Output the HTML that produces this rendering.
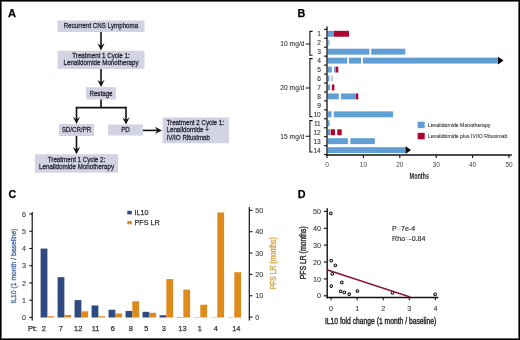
<!DOCTYPE html>
<html><head><meta charset="utf-8"><style>
html,body{margin:0;padding:0;background:#fff;}
#f{position:relative;width:520px;height:340px;overflow:hidden;background:#fff;}
svg{position:absolute;left:0;top:0;font-family:"Liberation Sans", sans-serif;will-change:transform;}

#b1{position:absolute;left:0;top:0;width:518px;height:338px;border:1px solid #000;}
#b2{position:absolute;left:1px;top:1px;width:516px;height:336px;border:1px solid #666;}
</style></head><body><div id="f">
<svg width="520" height="340" viewBox="0 0 520 340">
<text x="8" y="16.8" font-size="11.2" text-anchor="start" fill="#000" stroke="#000" stroke-width="0.25" font-weight="bold" >A</text>
<rect x="57.5" y="20.5" width="87" height="11.5" fill="#d3d4e3"/>
<text transform="translate(101,28.3) scale(0.89,1)" font-size="7" text-anchor="middle" fill="#23232f" stroke="#23232f" stroke-width="0.25" font-weight="normal" >Recurrent CNS Lymphoma</text>
<line x1="101" y1="32" x2="101" y2="46.5" stroke="#111" stroke-width="1.6"/>
<path d="M97.4,43.3 L101,50.5 L104.6,43.3 L101,45.9 Z" fill="#111"/>
<rect x="57.5" y="50.7" width="87" height="18.3" fill="#d3d4e3"/>
<text transform="translate(101,58.2) scale(0.89,1)" font-size="7" text-anchor="middle" fill="#23232f" stroke="#23232f" stroke-width="0.25" font-weight="normal" >Treatment 1 Cycle 1:</text>
<text transform="translate(101,65.2) scale(0.89,1)" font-size="7" text-anchor="middle" fill="#23232f" stroke="#23232f" stroke-width="0.25" font-weight="normal" >Lenalidomide Monotherapy</text>
<line x1="101" y1="69" x2="101" y2="83" stroke="#111" stroke-width="1.6"/>
<path d="M97.4,79.8 L101,87 L104.6,79.8 L101,82.4 Z" fill="#111"/>
<rect x="86" y="87.2" width="30" height="12.3" fill="#d3d4e3"/>
<text transform="translate(101,95.6) scale(0.89,1)" font-size="7" text-anchor="middle" fill="#23232f" stroke="#23232f" stroke-width="0.25" font-weight="normal" >Restage</text>
<path d="M101,99.5 L101,107.6 M76.5,107.6 L126,107.6" stroke="#111" stroke-width="1.6" fill="none"/>
<line x1="76.5" y1="106.8" x2="76.5" y2="120" stroke="#111" stroke-width="1.6"/>
<path d="M72.9,116.8 L76.5,124 L80.1,116.8 L76.5,119.4 Z" fill="#111"/>
<line x1="126" y1="106.8" x2="126" y2="120.5" stroke="#111" stroke-width="1.6"/>
<path d="M122.4,117.3 L126,124.5 L129.6,117.3 L126,119.9 Z" fill="#111"/>
<rect x="59" y="124" width="35" height="12" fill="#d3d4e3"/>
<text transform="translate(76.5,132.3) scale(0.89,1)" font-size="7" text-anchor="middle" fill="#23232f" stroke="#23232f" stroke-width="0.25" font-weight="normal" >SD/CR/PR</text>
<rect x="108" y="124.5" width="35" height="11" fill="#d3d4e3"/>
<text transform="translate(125.5,132.4) scale(0.89,1)" font-size="7" text-anchor="middle" fill="#23232f" stroke="#23232f" stroke-width="0.25" font-weight="normal" >PD</text>
<line x1="143" y1="130.4" x2="158" y2="130.4" stroke="#111" stroke-width="1.6"/>
<path d="M154.8,126.80000000000001 L162,130.4 L154.8,134.0 L157.4,130.4 Z" fill="#111"/>
<rect x="162.5" y="117.4" width="66.5" height="25.8" fill="#d3d4e3"/>
<text transform="translate(166.5,124.5) scale(0.89,1)" font-size="7" text-anchor="start" fill="#23232f" stroke="#23232f" stroke-width="0.25" font-weight="normal" >Treatment 2 Cycle 1:</text>
<text transform="translate(166.5,132.4) scale(0.89,1)" font-size="7" text-anchor="start" fill="#23232f" stroke="#23232f" stroke-width="0.25" font-weight="normal" >Lenalidomide +</text>
<text transform="translate(166.5,140.3) scale(0.89,1)" font-size="7" text-anchor="start" fill="#23232f" stroke="#23232f" stroke-width="0.25" font-weight="normal" >IV/IO Rituximab</text>
<line x1="76.5" y1="136" x2="76.5" y2="150.2" stroke="#111" stroke-width="1.6"/>
<path d="M72.9,147.0 L76.5,154.2 L80.1,147.0 L76.5,149.6 Z" fill="#111"/>
<rect x="35" y="154.2" width="83" height="18.5" fill="#d3d4e3"/>
<text transform="translate(76.5,161.8) scale(0.89,1)" font-size="7" text-anchor="middle" fill="#23232f" stroke="#23232f" stroke-width="0.25" font-weight="normal" >Treatment 1 Cycle 2:</text>
<text transform="translate(76.5,168.8) scale(0.89,1)" font-size="7" text-anchor="middle" fill="#23232f" stroke="#23232f" stroke-width="0.25" font-weight="normal" >Lenalidomide Monotherapy</text>
<text x="297.6" y="17.2" font-size="10.8" text-anchor="start" fill="#000" stroke="#000" stroke-width="0.25" font-weight="bold" >B</text>
<rect x="327.7" y="30.82" width="6.30" height="5.9" fill="#5f9fd6"/>
<rect x="334" y="30.82" width="15.00" height="5.9" fill="#ad0530"/>
<rect x="327.7" y="39.77" width="1.90" height="5.9" fill="#8fc0e6"/>
<rect x="327.7" y="48.72" width="41.70" height="5.9" fill="#5f9fd6"/>
<rect x="371.2" y="48.72" width="34.10" height="5.9" fill="#5f9fd6"/>
<rect x="327.7" y="57.67" width="19.60" height="5.9" fill="#5f9fd6"/>
<rect x="349" y="57.67" width="12.10" height="5.9" fill="#5f9fd6"/>
<rect x="362.9" y="57.67" width="135.10" height="5.9" fill="#5f9fd6"/>
<path d="M498,56.83 L503.5,60.62 L498,64.42 Z" fill="#000"/>
<rect x="327.7" y="66.62" width="4.10" height="5.9" fill="#5f9fd6"/>
<rect x="334.1" y="66.62" width="1.80" height="5.9" fill="#5f9fd6"/>
<rect x="335.9" y="66.62" width="2.40" height="5.9" fill="#ad0530"/>
<rect x="327.7" y="75.57" width="1.70" height="5.9" fill="#5f9fd6"/>
<rect x="331.2" y="75.57" width="1.50" height="5.9" fill="#8fbde3"/>
<rect x="327.7" y="84.52" width="2.30" height="5.9" fill="#5f9fd6"/>
<rect x="331.8" y="84.52" width="2.60" height="5.9" fill="#ad0530"/>
<rect x="327.7" y="93.47" width="11.10" height="5.9" fill="#5f9fd6"/>
<rect x="341" y="93.47" width="15.00" height="5.9" fill="#5f9fd6"/>
<rect x="356" y="93.47" width="2.30" height="5.9" fill="#ad0530"/>
<rect x="327.7" y="111.37" width="3.80" height="5.9" fill="#5f9fd6"/>
<rect x="333.8" y="111.37" width="59.30" height="5.9" fill="#5f9fd6"/>
<rect x="327.7" y="120.32" width="1.90" height="5.9" fill="#5f9fd6"/>
<rect x="327.7" y="129.28" width="2.30" height="5.9" fill="#5f9fd6"/>
<rect x="330.6" y="129.28" width="4.40" height="5.9" fill="#ad0530"/>
<rect x="337.3" y="129.28" width="4.40" height="5.9" fill="#ad0530"/>
<rect x="327.7" y="138.22" width="20.20" height="5.9" fill="#5f9fd6"/>
<rect x="350.4" y="138.22" width="24.40" height="5.9" fill="#5f9fd6"/>
<rect x="327.7" y="147.18" width="77.90" height="5.9" fill="#5f9fd6"/>
<path d="M405.6,146.32 L411,150.12 L405.6,153.93 Z" fill="#000"/>
<line x1="327" y1="26.5" x2="327" y2="156" stroke="#111" stroke-width="1.3"/>
<line x1="324" y1="29.30" x2="327" y2="29.30" stroke="#111" stroke-width="1.1"/>
<line x1="324" y1="38.25" x2="327" y2="38.25" stroke="#111" stroke-width="1.1"/>
<line x1="324" y1="47.20" x2="327" y2="47.20" stroke="#111" stroke-width="1.1"/>
<line x1="324" y1="56.15" x2="327" y2="56.15" stroke="#111" stroke-width="1.1"/>
<line x1="324" y1="65.10" x2="327" y2="65.10" stroke="#111" stroke-width="1.1"/>
<line x1="324" y1="74.05" x2="327" y2="74.05" stroke="#111" stroke-width="1.1"/>
<line x1="324" y1="83.00" x2="327" y2="83.00" stroke="#111" stroke-width="1.1"/>
<line x1="324" y1="91.95" x2="327" y2="91.95" stroke="#111" stroke-width="1.1"/>
<line x1="324" y1="100.90" x2="327" y2="100.90" stroke="#111" stroke-width="1.1"/>
<line x1="324" y1="109.85" x2="327" y2="109.85" stroke="#111" stroke-width="1.1"/>
<line x1="324" y1="118.80" x2="327" y2="118.80" stroke="#111" stroke-width="1.1"/>
<line x1="324" y1="127.75" x2="327" y2="127.75" stroke="#111" stroke-width="1.1"/>
<line x1="324" y1="136.70" x2="327" y2="136.70" stroke="#111" stroke-width="1.1"/>
<line x1="324" y1="145.65" x2="327" y2="145.65" stroke="#111" stroke-width="1.1"/>
<line x1="324" y1="154.60" x2="327" y2="154.60" stroke="#111" stroke-width="1.1"/>
<line x1="326.4" y1="155" x2="511.8" y2="155" stroke="#111" stroke-width="1.4"/>
<line x1="327.00" y1="155" x2="327.00" y2="158" stroke="#111" stroke-width="1.1"/>
<text x="327.00" y="166.5" font-size="6.5" text-anchor="middle" fill="#444" stroke="#444" stroke-width="0" font-weight="normal" >0</text>
<line x1="363.40" y1="155" x2="363.40" y2="158" stroke="#111" stroke-width="1.1"/>
<text x="363.40" y="166.5" font-size="6.5" text-anchor="middle" fill="#444" stroke="#444" stroke-width="0" font-weight="normal" >10</text>
<line x1="399.80" y1="155" x2="399.80" y2="158" stroke="#111" stroke-width="1.1"/>
<text x="399.80" y="166.5" font-size="6.5" text-anchor="middle" fill="#444" stroke="#444" stroke-width="0" font-weight="normal" >20</text>
<line x1="436.20" y1="155" x2="436.20" y2="158" stroke="#111" stroke-width="1.1"/>
<text x="436.20" y="166.5" font-size="6.5" text-anchor="middle" fill="#444" stroke="#444" stroke-width="0" font-weight="normal" >30</text>
<line x1="472.60" y1="155" x2="472.60" y2="158" stroke="#111" stroke-width="1.1"/>
<text x="472.60" y="166.5" font-size="6.5" text-anchor="middle" fill="#444" stroke="#444" stroke-width="0" font-weight="normal" >40</text>
<line x1="509.00" y1="155" x2="509.00" y2="158" stroke="#111" stroke-width="1.1"/>
<text x="509.00" y="166.5" font-size="6.5" text-anchor="middle" fill="#444" stroke="#444" stroke-width="0" font-weight="normal" >50</text>
<text x="409.6" y="178.6" font-size="8.4" font-weight="bold" fill="#222" textLength="19.4" lengthAdjust="spacingAndGlyphs">Months</text>
<text x="320.8" y="36.17" font-size="6.6" text-anchor="end" fill="#333" stroke="#333" stroke-width="0.1" font-weight="normal" >1</text>
<text x="320.8" y="45.12" font-size="6.6" text-anchor="end" fill="#333" stroke="#333" stroke-width="0.1" font-weight="normal" >2</text>
<text x="320.8" y="54.07" font-size="6.6" text-anchor="end" fill="#333" stroke="#333" stroke-width="0.1" font-weight="normal" >3</text>
<text x="320.8" y="63.02" font-size="6.6" text-anchor="end" fill="#333" stroke="#333" stroke-width="0.1" font-weight="normal" >4</text>
<text x="320.8" y="71.98" font-size="6.6" text-anchor="end" fill="#333" stroke="#333" stroke-width="0.1" font-weight="normal" >5</text>
<text x="320.8" y="80.92" font-size="6.6" text-anchor="end" fill="#333" stroke="#333" stroke-width="0.1" font-weight="normal" >6</text>
<text x="320.8" y="89.88" font-size="6.6" text-anchor="end" fill="#333" stroke="#333" stroke-width="0.1" font-weight="normal" >7</text>
<text x="320.8" y="98.83" font-size="6.6" text-anchor="end" fill="#333" stroke="#333" stroke-width="0.1" font-weight="normal" >8</text>
<text x="320.8" y="107.77" font-size="6.6" text-anchor="end" fill="#333" stroke="#333" stroke-width="0.1" font-weight="normal" >9</text>
<text x="320.8" y="116.72" font-size="6.6" text-anchor="end" fill="#333" stroke="#333" stroke-width="0.1" font-weight="normal" >10</text>
<text x="320.8" y="125.67" font-size="6.6" text-anchor="end" fill="#333" stroke="#333" stroke-width="0.1" font-weight="normal" >11</text>
<text x="320.8" y="134.62" font-size="6.6" text-anchor="end" fill="#333" stroke="#333" stroke-width="0.1" font-weight="normal" >12</text>
<text x="320.8" y="143.57" font-size="6.6" text-anchor="end" fill="#333" stroke="#333" stroke-width="0.1" font-weight="normal" >13</text>
<text x="320.8" y="152.53" font-size="6.6" text-anchor="end" fill="#333" stroke="#333" stroke-width="0.1" font-weight="normal" >14</text>
<path d="M312.6,31.4 L309.9,31.4 L309.9,55.2 L312.6,55.2 M305.7,44.0 L309.9,44.0" stroke="#111" stroke-width="1.1" fill="none"/>
<path d="M312.6,58.6 L309.9,58.6 L309.9,116.7 L312.6,116.7 M305.7,88.0 L309.9,88.0" stroke="#111" stroke-width="1.1" fill="none"/>
<path d="M312.6,120.6 L309.9,120.6 L309.9,152.0 L312.6,152.0 M305.7,136.3 L309.9,136.3" stroke="#111" stroke-width="1.1" fill="none"/>
<text x="304.6" y="46.3" font-size="6.6" text-anchor="end" fill="#333" stroke="#333" stroke-width="0.1" font-weight="normal" letter-spacing="0.08">10 mg/d</text>
<text x="304.6" y="90.3" font-size="6.6" text-anchor="end" fill="#333" stroke="#333" stroke-width="0.1" font-weight="normal" letter-spacing="0.08">20 mg/d</text>
<text x="304.6" y="138.6" font-size="6.6" text-anchor="end" fill="#333" stroke="#333" stroke-width="0.1" font-weight="normal" letter-spacing="0.08">15 mg/d</text>
<rect x="417.7" y="121.7" width="7" height="6.5" fill="#5f9fd6"/>
<rect x="417.7" y="132.8" width="7" height="6.5" fill="#ad0530"/>
<text x="427.8" y="126.9" font-size="5.2" text-anchor="start" fill="#333" stroke="#333" stroke-width="0.08" font-weight="normal" >Lenalidomide Monotherapy</text>
<text x="427.8" y="138.0" font-size="5.2" text-anchor="start" fill="#333" stroke="#333" stroke-width="0.08" font-weight="normal" >Lenalidomide plus IV/IO Rituximab</text>
<text x="8.4" y="198.2" font-size="10.6" text-anchor="start" fill="#000" stroke="#000" stroke-width="0.25" font-weight="bold" >C</text>
<rect x="40.60" y="248.58" width="6.8" height="68.92" fill="#2f4a80"/>
<rect x="47.40" y="316.22" width="6.8" height="1.28" fill="#de8b1b"/>
<rect x="57.59" y="277.18" width="6.8" height="40.32" fill="#2f4a80"/>
<rect x="64.39" y="314.94" width="6.8" height="2.56" fill="#de8b1b"/>
<rect x="74.58" y="300.10" width="6.8" height="17.40" fill="#2f4a80"/>
<rect x="81.38" y="311.31" width="6.8" height="6.19" fill="#de8b1b"/>
<rect x="91.57" y="305.44" width="6.8" height="12.06" fill="#2f4a80"/>
<rect x="98.37" y="316.22" width="6.8" height="1.28" fill="#de8b1b"/>
<rect x="108.56" y="309.75" width="6.8" height="7.75" fill="#2f4a80"/>
<rect x="115.36" y="313.44" width="6.8" height="4.06" fill="#de8b1b"/>
<rect x="125.55" y="310.95" width="6.8" height="6.55" fill="#2f4a80"/>
<rect x="132.35" y="301.27" width="6.8" height="16.23" fill="#de8b1b"/>
<rect x="142.54" y="311.81" width="6.8" height="5.69" fill="#2f4a80"/>
<rect x="149.34" y="312.80" width="6.8" height="4.70" fill="#de8b1b"/>
<rect x="159.53" y="315.26" width="6.8" height="2.24" fill="#2f4a80"/>
<rect x="166.33" y="279.07" width="6.8" height="38.43" fill="#de8b1b"/>
<rect x="176.52" y="317.16" width="6.8" height="0.34" fill="#2f4a80"/>
<rect x="183.32" y="289.53" width="6.8" height="27.97" fill="#de8b1b"/>
<rect x="193.51" y="317.00" width="6.8" height="0.5" fill="#a8b4c8"/>
<rect x="200.31" y="304.69" width="6.8" height="12.81" fill="#de8b1b"/>
<rect x="210.50" y="317.00" width="6.8" height="0.5" fill="#a8b4c8"/>
<rect x="217.30" y="212.46" width="6.8" height="105.04" fill="#de8b1b"/>
<rect x="227.49" y="317.00" width="6.8" height="0.5" fill="#a8b4c8"/>
<rect x="234.29" y="272.24" width="6.8" height="45.26" fill="#de8b1b"/>
<line x1="32.2" y1="211.9" x2="32.2" y2="320.5" stroke="#111" stroke-width="1.2"/>
<line x1="29.3" y1="317.40" x2="32.2" y2="317.40" stroke="#111" stroke-width="1.1"/>
<text x="25.9" y="320.00" font-size="7.1" text-anchor="end" fill="#3a3a3a" stroke="#3a3a3a" stroke-width="0.1" font-weight="normal" >0</text>
<line x1="29.3" y1="300.17" x2="32.2" y2="300.17" stroke="#111" stroke-width="1.1"/>
<text x="25.9" y="302.77" font-size="7.1" text-anchor="end" fill="#3a3a3a" stroke="#3a3a3a" stroke-width="0.1" font-weight="normal" >1</text>
<line x1="29.3" y1="282.94" x2="32.2" y2="282.94" stroke="#111" stroke-width="1.1"/>
<text x="25.9" y="285.54" font-size="7.1" text-anchor="end" fill="#3a3a3a" stroke="#3a3a3a" stroke-width="0.1" font-weight="normal" >2</text>
<line x1="29.3" y1="265.71" x2="32.2" y2="265.71" stroke="#111" stroke-width="1.1"/>
<text x="25.9" y="268.31" font-size="7.1" text-anchor="end" fill="#3a3a3a" stroke="#3a3a3a" stroke-width="0.1" font-weight="normal" >3</text>
<line x1="29.3" y1="248.48" x2="32.2" y2="248.48" stroke="#111" stroke-width="1.1"/>
<text x="25.9" y="251.08" font-size="7.1" text-anchor="end" fill="#3a3a3a" stroke="#3a3a3a" stroke-width="0.1" font-weight="normal" >4</text>
<line x1="29.3" y1="231.25" x2="32.2" y2="231.25" stroke="#111" stroke-width="1.1"/>
<text x="25.9" y="233.85" font-size="7.1" text-anchor="end" fill="#3a3a3a" stroke="#3a3a3a" stroke-width="0.1" font-weight="normal" >5</text>
<line x1="29.3" y1="214.02" x2="32.2" y2="214.02" stroke="#111" stroke-width="1.1"/>
<text x="25.9" y="216.62" font-size="7.1" text-anchor="end" fill="#3a3a3a" stroke="#3a3a3a" stroke-width="0.1" font-weight="normal" >6</text>
<line x1="249.3" y1="207" x2="249.3" y2="320.6" stroke="#111" stroke-width="1.2"/>
<line x1="249.3" y1="317.10" x2="252.5" y2="317.10" stroke="#111" stroke-width="1.1"/>
<text x="255.2" y="319.70" font-size="7.2" text-anchor="start" fill="#3a3a3a" stroke="#3a3a3a" stroke-width="0.1" font-weight="normal" >0</text>
<line x1="249.3" y1="295.75" x2="252.5" y2="295.75" stroke="#111" stroke-width="1.1"/>
<text x="255.2" y="298.35" font-size="7.2" text-anchor="start" fill="#3a3a3a" stroke="#3a3a3a" stroke-width="0.1" font-weight="normal" >10</text>
<line x1="249.3" y1="274.40" x2="252.5" y2="274.40" stroke="#111" stroke-width="1.1"/>
<text x="255.2" y="277.00" font-size="7.2" text-anchor="start" fill="#3a3a3a" stroke="#3a3a3a" stroke-width="0.1" font-weight="normal" >20</text>
<line x1="249.3" y1="253.05" x2="252.5" y2="253.05" stroke="#111" stroke-width="1.1"/>
<text x="255.2" y="255.65" font-size="7.2" text-anchor="start" fill="#3a3a3a" stroke="#3a3a3a" stroke-width="0.1" font-weight="normal" >30</text>
<line x1="249.3" y1="231.70" x2="252.5" y2="231.70" stroke="#111" stroke-width="1.1"/>
<text x="255.2" y="234.30" font-size="7.2" text-anchor="start" fill="#3a3a3a" stroke="#3a3a3a" stroke-width="0.1" font-weight="normal" >40</text>
<line x1="249.3" y1="210.35" x2="252.5" y2="210.35" stroke="#111" stroke-width="1.1"/>
<text x="255.2" y="212.95" font-size="7.2" text-anchor="start" fill="#3a3a3a" stroke="#3a3a3a" stroke-width="0.1" font-weight="normal" >50</text>
<text transform="translate(15.5,266.0) rotate(-90)" font-size="8" text-anchor="middle" fill="#5573a8" stroke="#5573a8" stroke-width="0.4" textLength="75.2" lengthAdjust="spacingAndGlyphs">IL10 (1 month / baseline)</text>
<text transform="translate(276.4,263.3) rotate(-90)" font-size="8.2" text-anchor="middle" fill="#dcaa50" stroke="#dcaa50" stroke-width="0.45" textLength="52" lengthAdjust="spacingAndGlyphs">PFS LR (months)</text>
<rect x="127.3" y="210.8" width="4.5" height="3.6" fill="#2f4a80"/>
<rect x="127.3" y="220.9" width="4.5" height="3.4" fill="#de8b1b"/>
<text x="134.5" y="215.3" font-size="7.2" text-anchor="start" fill="#333" stroke="#333" stroke-width="0.25" font-weight="normal" >IL10</text>
<text x="134.5" y="225.3" font-size="7.2" text-anchor="start" fill="#333" stroke="#333" stroke-width="0.25" font-weight="normal" >PFS LR</text>
<text x="27.9" y="330.8" font-size="7.5" text-anchor="start" fill="#333" stroke="#333" stroke-width="0.25" font-weight="normal" >Pt:</text>
<text x="43.9" y="330.8" font-size="7.4" text-anchor="middle" fill="#333" stroke="#333" stroke-width="0.25" font-weight="normal" >2</text>
<text x="60.9" y="330.8" font-size="7.4" text-anchor="middle" fill="#333" stroke="#333" stroke-width="0.25" font-weight="normal" >7</text>
<text x="78.2" y="330.8" font-size="7.4" text-anchor="middle" fill="#333" stroke="#333" stroke-width="0.25" font-weight="normal" >12</text>
<text x="95.5" y="330.8" font-size="7.4" text-anchor="middle" fill="#333" stroke="#333" stroke-width="0.25" font-weight="normal" >11</text>
<text x="112.9" y="330.8" font-size="7.4" text-anchor="middle" fill="#333" stroke="#333" stroke-width="0.25" font-weight="normal" >6</text>
<text x="130.9" y="330.8" font-size="7.4" text-anchor="middle" fill="#333" stroke="#333" stroke-width="0.25" font-weight="normal" >8</text>
<text x="146.4" y="330.8" font-size="7.4" text-anchor="middle" fill="#333" stroke="#333" stroke-width="0.25" font-weight="normal" >5</text>
<text x="163.9" y="330.8" font-size="7.4" text-anchor="middle" fill="#333" stroke="#333" stroke-width="0.25" font-weight="normal" >3</text>
<text x="182.4" y="330.8" font-size="7.4" text-anchor="middle" fill="#333" stroke="#333" stroke-width="0.25" font-weight="normal" >13</text>
<text x="199.8" y="330.8" font-size="7.4" text-anchor="middle" fill="#333" stroke="#333" stroke-width="0.25" font-weight="normal" >1</text>
<text x="215.8" y="330.8" font-size="7.4" text-anchor="middle" fill="#333" stroke="#333" stroke-width="0.25" font-weight="normal" >4</text>
<text x="236.3" y="330.8" font-size="7.4" text-anchor="middle" fill="#333" stroke="#333" stroke-width="0.25" font-weight="normal" >14</text>
<text x="297.8" y="198.4" font-size="10.8" text-anchor="start" fill="#000" stroke="#000" stroke-width="0.25" font-weight="bold" >D</text>
<line x1="327.2" y1="208.3" x2="327.2" y2="298.3" stroke="#111" stroke-width="1.4"/>
<line x1="323.8" y1="295.80" x2="327.2" y2="295.80" stroke="#111" stroke-width="1.1"/>
<text x="321.0" y="298.40" font-size="7.2" text-anchor="end" fill="#3a3a3a" stroke="#3a3a3a" stroke-width="0.1" font-weight="normal" >0</text>
<line x1="323.8" y1="278.92" x2="327.2" y2="278.92" stroke="#111" stroke-width="1.1"/>
<text x="321.0" y="281.52" font-size="7.2" text-anchor="end" fill="#3a3a3a" stroke="#3a3a3a" stroke-width="0.1" font-weight="normal" >10</text>
<line x1="323.8" y1="262.04" x2="327.2" y2="262.04" stroke="#111" stroke-width="1.1"/>
<text x="321.0" y="264.64" font-size="7.2" text-anchor="end" fill="#3a3a3a" stroke="#3a3a3a" stroke-width="0.1" font-weight="normal" >20</text>
<line x1="323.8" y1="245.16" x2="327.2" y2="245.16" stroke="#111" stroke-width="1.1"/>
<text x="321.0" y="247.76" font-size="7.2" text-anchor="end" fill="#3a3a3a" stroke="#3a3a3a" stroke-width="0.1" font-weight="normal" >30</text>
<line x1="323.8" y1="228.28" x2="327.2" y2="228.28" stroke="#111" stroke-width="1.1"/>
<text x="321.0" y="230.88" font-size="7.2" text-anchor="end" fill="#3a3a3a" stroke="#3a3a3a" stroke-width="0.1" font-weight="normal" >40</text>
<line x1="323.8" y1="211.40" x2="327.2" y2="211.40" stroke="#111" stroke-width="1.1"/>
<text x="321.0" y="214.00" font-size="7.2" text-anchor="end" fill="#3a3a3a" stroke="#3a3a3a" stroke-width="0.1" font-weight="normal" >50</text>
<line x1="326.5" y1="297.5" x2="438.5" y2="297.5" stroke="#111" stroke-width="1.4"/>
<line x1="331.10" y1="297.5" x2="331.10" y2="300.3" stroke="#111" stroke-width="1.1"/>
<text x="331.10" y="311.0" font-size="7.2" text-anchor="middle" fill="#3a3a3a" stroke="#3a3a3a" stroke-width="0.1" font-weight="normal" >0</text>
<line x1="357.18" y1="297.5" x2="357.18" y2="300.3" stroke="#111" stroke-width="1.1"/>
<text x="357.18" y="311.0" font-size="7.2" text-anchor="middle" fill="#3a3a3a" stroke="#3a3a3a" stroke-width="0.1" font-weight="normal" >1</text>
<line x1="383.26" y1="297.5" x2="383.26" y2="300.3" stroke="#111" stroke-width="1.1"/>
<text x="383.26" y="311.0" font-size="7.2" text-anchor="middle" fill="#3a3a3a" stroke="#3a3a3a" stroke-width="0.1" font-weight="normal" >2</text>
<line x1="409.34" y1="297.5" x2="409.34" y2="300.3" stroke="#111" stroke-width="1.1"/>
<text x="409.34" y="311.0" font-size="7.2" text-anchor="middle" fill="#3a3a3a" stroke="#3a3a3a" stroke-width="0.1" font-weight="normal" >3</text>
<line x1="435.42" y1="297.5" x2="435.42" y2="300.3" stroke="#111" stroke-width="1.1"/>
<text x="435.42" y="311.0" font-size="7.2" text-anchor="middle" fill="#3a3a3a" stroke="#3a3a3a" stroke-width="0.1" font-weight="normal" >4</text>
<line x1="327.6" y1="270" x2="410.1" y2="297" stroke="#861838" stroke-width="1.5"/>
<circle cx="330.8" cy="213.3" r="1.35" fill="#f4f4f0" stroke="#1a1f1a" stroke-width="1.05"/>
<circle cx="331.2" cy="260.6" r="1.35" fill="#f4f4f0" stroke="#1a1f1a" stroke-width="1.05"/>
<circle cx="335.3" cy="265.3" r="1.35" fill="#f4f4f0" stroke="#1a1f1a" stroke-width="1.05"/>
<circle cx="332.3" cy="273.8" r="1.35" fill="#f4f4f0" stroke="#1a1f1a" stroke-width="1.05"/>
<circle cx="341.8" cy="282.4" r="1.35" fill="#f4f4f0" stroke="#1a1f1a" stroke-width="1.05"/>
<circle cx="331.2" cy="286.1" r="1.35" fill="#f4f4f0" stroke="#1a1f1a" stroke-width="1.05"/>
<circle cx="340.6" cy="291.3" r="1.35" fill="#f4f4f0" stroke="#1a1f1a" stroke-width="1.05"/>
<circle cx="344.3" cy="292.4" r="1.35" fill="#f4f4f0" stroke="#1a1f1a" stroke-width="1.05"/>
<circle cx="349.2" cy="294.2" r="1.35" fill="#f4f4f0" stroke="#1a1f1a" stroke-width="1.05"/>
<circle cx="357.4" cy="291" r="1.35" fill="#f4f4f0" stroke="#1a1f1a" stroke-width="1.05"/>
<circle cx="392.5" cy="292.8" r="1.35" fill="#f4f4f0" stroke="#1a1f1a" stroke-width="1.05"/>
<circle cx="435.1" cy="294.3" r="1.35" fill="#f4f4f0" stroke="#1a1f1a" stroke-width="1.05"/>
<text x="392.1" y="230.9" font-size="7.1" fill="#333" stroke="#333" stroke-width="0.18">P<tspan fill="#bbb" stroke="#bbb">=</tspan>7e-4</text>
<text x="392.1" y="241.0" font-size="7.1" fill="#333" stroke="#333" stroke-width="0.18">Rho<tspan fill="#bbb" stroke="#bbb">=</tspan>-0.84</text>
<text x="324.9" y="324.4" font-size="8.4" fill="#2a2a2a" stroke="#2a2a2a" stroke-width="0.4" textLength="111.4" lengthAdjust="spacingAndGlyphs">IL10 fold change (1 month / baseline)</text>
<text transform="translate(305.6,252.8) rotate(-90)" font-size="8.4" text-anchor="middle" fill="#2a2a2a" stroke="#2a2a2a" stroke-width="0.4" textLength="53" lengthAdjust="spacingAndGlyphs">PFS LR (months)</text>
</svg>
<div id="b2"></div><div id="b1"></div>
</div></body></html>
